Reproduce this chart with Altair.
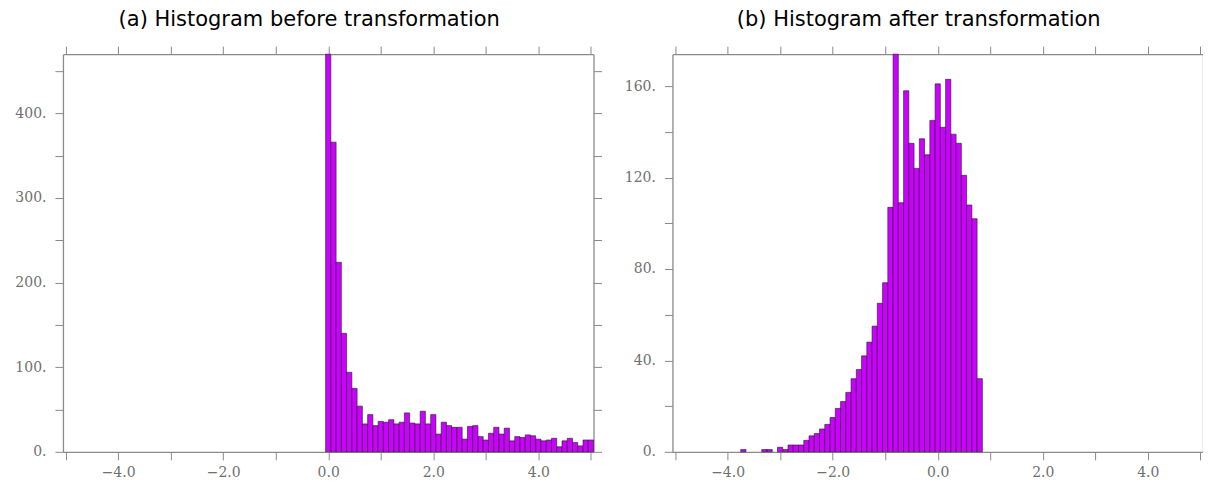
import altair as alt
import pandas as pd

# ---- data ----
left_centers = [0.0, 0.1, 0.2, 0.3, 0.4, 0.5, 0.6, 0.7, 0.8, 0.9,
                1.0, 1.1, 1.2, 1.3, 1.4, 1.5, 1.6, 1.7, 1.8, 1.9,
                2.0, 2.1, 2.2, 2.3, 2.4, 2.5, 2.6, 2.7, 2.8, 2.9,
                3.0, 3.1, 3.2, 3.3, 3.4, 3.5, 3.6, 3.7, 3.8, 3.9,
                4.0, 4.1, 4.2, 4.3, 4.4, 4.5, 4.6, 4.7, 4.8, 4.9, 5.0]
left_counts = [470, 366, 224, 140, 94, 75, 54, 33, 44, 31,
               36, 35, 38, 33, 35, 46, 34, 33, 48, 33,
               44, 21, 35, 31, 29, 29, 15, 30, 31, 18,
               14, 22, 29, 21, 28, 13, 18, 17, 20, 19,
               15, 13, 14, 16, 6, 13, 16, 11, 7, 14, 14]

right_centers = [-3.7, -3.6, -3.5, -3.4, -3.3, -3.2, -3.1, -3.0, -2.9, -2.8,
                 -2.7, -2.6, -2.5, -2.4, -2.3, -2.2, -2.1, -2.0, -1.9, -1.8,
                 -1.7, -1.6, -1.5, -1.4, -1.3, -1.2, -1.1, -1.0, -0.9, -0.8,
                 -0.7, -0.6, -0.5, -0.4, -0.3, -0.2, -0.1, 0.0, 0.1, 0.2,
                 0.3, 0.4, 0.5, 0.6, 0.7, 0.8]
right_counts = [1, 0, 0, 0, 1, 1, 0, 2, 1, 3,
                3, 3, 5, 7, 8, 10, 12, 15, 19, 22,
                26, 32, 36, 42, 48, 55, 65, 74, 107, 174,
                109, 158, 135, 124, 137, 130, 145, 161, 142, 163,
                139, 135, 121, 108, 102, 32]

x_ticks = [-5, -4, -3, -2, -1, 0, 1, 2, 3, 4, 5]
left_y_ticks = [0, 50, 100, 150, 200, 250, 300, 350, 400, 450]
right_y_ticks = [0, 20, 40, 60, 80, 100, 120, 140, 160]

titles = ["(a) Histogram before transformation", "(b) Histogram after transformation"]

BIN = 0.1
AX = "#8a8a8a"
LAB = "#707070"
FONT = "DejaVu Serif"


def panel(centers, counts, ymax, yticks, ylabel_step, title):
    df = pd.DataFrame({"c": centers, "n": counts})
    df = df[df["n"] > 0].copy()
    df["x0"] = df["c"] - BIN / 2
    df["x1"] = df["c"] + BIN / 2
    df["z"] = 0

    xs = alt.Scale(domain=[-5.05, 5.05], nice=False, zero=False)
    ys = alt.Scale(domain=[0, ymax], nice=False, zero=True)

    common = dict(domainColor=AX, domainWidth=1.3, tickColor=AX, tickWidth=1,
                  tickSize=8, grid=False, title=None)

    bars = alt.Chart(df).mark_rect(fill="#CC00FF", stroke="#1e1e1e", strokeWidth=0.6).encode(
        x=alt.X("x0:Q", scale=xs, axis=alt.Axis(
            orient="bottom", values=x_ticks,
            labelExpr="datum.value % 2 == 0 ? format(datum.value, '.1f') : ''",
            labelFont=FONT, labelFontSize=14, labelColor=LAB, labelPadding=6,
            labelFlush=False, labelOverlap=False, **common)),
        x2="x1:Q",
        y=alt.Y("n:Q", scale=ys, axis=alt.Axis(
            orient="left", values=yticks,
            labelExpr=f"datum.value % {ylabel_step} == 0 ? format(datum.value, 'd') + '.' : ''",
            labelFont=FONT, labelFontSize=14, labelColor=LAB, labelPadding=9,
            labelOverlap=False, labelFlush=False,
            minExtent=55, maxExtent=55, **common)),
        y2="z:Q",
    )

    frame = alt.Chart(df).mark_point(opacity=0, size=1).encode(
        x=alt.X("c:Q", scale=xs, axis=alt.Axis(
            orient="top", values=x_ticks, labels=False,
            minExtent=8, maxExtent=8, **common)),
        y=alt.Y("n:Q", scale=ys, axis=alt.Axis(
            orient="right", values=yticks, labels=False,
            minExtent=8, maxExtent=8, **common)),
    )

    return alt.layer(bars, frame).resolve_scale(x="independent", y="independent").properties(
        width=531, height=398,
        title=alt.TitleParams(title, font="DejaVu Sans", fontSize=21, fontWeight="normal",
                              color="#000000", anchor="middle", offset=16, dx=-19),
    )


left = panel(left_centers, left_counts, 470, left_y_ticks, 100, titles[0])
right = panel(right_centers, right_counts, 174, right_y_ticks, 40, titles[1])

chart = alt.hconcat(left, right, spacing=15).properties(
    padding={"left": 0, "top": 0, "right": -9, "bottom": 0}
).configure_view(stroke=None)

chart.save("out.html", embed_options={"renderer": "svg", "actions": False})
